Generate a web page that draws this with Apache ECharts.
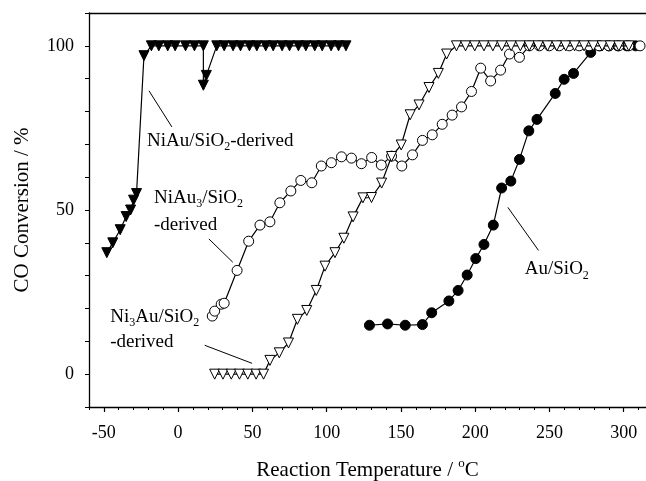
<!DOCTYPE html>
<html>
<head>
<meta charset="utf-8">
<script src="https://cdn.jsdelivr.net/npm/echarts@6.0.0/dist/echarts.min.js"></script>
<style>
  html, body { margin: 0; padding: 0; background: #fff; }
  #chart { width: 646px; height: 481px; }
</style>
</head>
<body>
<div id="chart"></div>
<script>
// NiAu/SiO2-derived (filled down triangles)
var niAuT = [-48, -44, -39, -35, -32, -30, -28, -23, -18, -13, -7, -2, 5, 11, 17, 17, 19,
    26, 31, 37, 42, 48, 53, 59, 64, 70, 75, 81, 86, 92, 97, 103, 108, 113];
var niAuC = [37, 40, 44, 48, 50, 53, 55, 97, 100, 100, 100, 100, 100, 100, 100, 88, 91,
    100, 100, 100, 100, 100, 100, 100, 100, 100, 100, 100, 100, 100, 100, 100, 100, 100];

// NiAu3/SiO2-derived (open circles)
var niAu3T = [23, 24.6, 29, 31, 39.7, 47.5, 55.1, 61.8, 68.5, 75.9, 82.6, 90, 96.4, 103.2, 110,
    116.7, 123.4, 130.3, 136.8, 143.7, 150.6, 157.8, 164.5, 171.1, 177.8, 184.5, 190.8, 197.5,
    203.7, 210.4, 217.1, 223.1, 229.8, 236.5, 243.2, 249.9, 256.6, 263.3, 270, 276.7, 283.4,
    290, 296.7, 303.4, 311];
var niAu3C = [17.7, 19.2, 21.3, 21.6, 31.6, 40.5, 45.4, 46.4, 52.2, 55.8, 59, 58.3, 63.4, 64.4, 66.2,
    65.8, 64.1, 66, 63.7, 66.4, 63.4, 66.8, 71.2, 72.9, 76.1, 78.9, 81.4, 86.1,
    93.2, 89.3, 92.6, 97.5, 96.5, 100, 100, 100, 100, 100, 100, 100, 100,
    100, 100, 100, 100];

// Ni3Au/SiO2-derived (open down triangles)
var ni3AuT = [24.6, 30.2, 35.8, 41.3, 46.9, 52.5, 57.5, 61.8, 68.1, 74.3, 80.3, 86.6, 93, 98.9,
    105.6, 111.6, 117.8, 124.4, 130.2, 137, 143.7, 150.2, 156.2, 162.2, 168.9, 175.2, 180.8,
    187.4, 193.5, 199.7, 205.9, 211.9, 217.9, 224.2, 230.4, 236.4, 242.4, 248.7, 254.9, 260.9,
    266.9, 273.3, 279.5, 285.5, 291, 296.7, 303.4];
var ni3AuC = [0, 0, 0, 0, 0, 0, 0, 4.2, 6.5, 9.5, 16.7, 19.4, 25.5, 32.9,
    37, 41.4, 47.9, 53.7, 53.8, 58.2, 66.3, 69.8, 79, 82, 87.3, 91.6, 97.5,
    100, 100, 100, 100, 100, 100, 100, 100, 100, 100, 100, 100, 100,
    100, 100, 100, 100, 100, 100, 100];

// Au/SiO2 (filled circles)
var auT = [128.8, 141, 152.9, 164.5, 170.7, 182.3, 188.5, 194.6, 200.4, 205.9, 212.2, 217.8,
    224, 229.8, 236.1, 241.6, 253.9, 259.9, 266.2, 277.8, 284, 290, 296, 302, 308];
var auC = [14.9, 15.3, 14.9, 15.1, 18.7, 22.3, 25.5, 30.2, 35.2, 39.5, 45.4, 56.7,
    58.8, 65.4, 74.1, 77.6, 85.5, 89.8, 91.6, 98, 100, 100, 100, 100, 100];

// tick labels
var xLabelValues = [-50, 0, 50, 100, 150, 200, 250, 300];
var yLabelValues = [0, 50, 100];

function pairs(xs, ys) {
    return xs.map(function (x, i) { return [x, ys[i]]; });
}

var FONT = '"Liberation Serif", "DejaVu Serif", serif';
var chart = echarts.init(document.getElementById('chart'), null, { renderer: 'canvas' });

function mkSeries(name, data, symbol, fill, z) {
    return {
        name: name,
        type: 'line',
        data: data,
        symbol: symbol,
        symbolRotate: symbol === 'triangle' ? 180 : 0,
        symbolSize: 10,
        z: z,
        lineStyle: { color: '#000', width: 1.2 },
        itemStyle: { color: fill, borderColor: '#000', borderWidth: 1 },
        emphasis: { disabled: true },
        animation: false
    };
}

var option = {
    backgroundColor: '#fff',
    animation: false,
    grid: { left: 89, right: 0, top: 13, bottom: 74, outerBoundsMode: 'none' },
    xAxis: [{
        type: 'value', min: -60, max: 315, interval: 10,
        axisLine: { onZero: false, lineStyle: { color: '#000', width: 1.3 } },
        axisTick: { length: 3, lineStyle: { color: '#000', width: 1 } },
        axisLabel: {
            margin: 17, color: '#000', fontFamily: FONT, fontSize: 18,
            formatter: function (v) { return xLabelValues.indexOf(v) >= 0 ? String(v) : ''; }
        },
        splitLine: { show: false },
        name: 'Reaction Temperature / {sup|o}C',
        nameLocation: 'middle', nameGap: 50,
        nameTextStyle: {
            color: '#000', fontFamily: FONT, fontSize: 21,
            rich: { sup: { fontSize: 13, fontFamily: FONT, color: '#000', verticalAlign: 'top', lineHeight: 26 } }
        }
    }, {
        // longer ticks at the labelled values
        type: 'value', min: -60, max: 315, interval: 10, position: 'bottom',
        axisLine: { show: false, onZero: false },
        axisTick: { show: true, length: 5, customValues: xLabelValues, lineStyle: { color: '#000', width: 1.2 } },
        axisLabel: { show: false },
        splitLine: { show: false }
    }, {
        // top frame line
        type: 'value', min: -60, max: 315, position: 'top',
        axisLine: { onZero: false, lineStyle: { color: '#000', width: 1.3 } },
        axisTick: { show: false }, axisLabel: { show: false }, splitLine: { show: false }
    }],
    yAxis: {
        type: 'value', min: -10, max: 110, interval: 10,
        axisLine: { show: true, onZero: false, lineStyle: { color: '#000', width: 1.3 } },
        axisTick: { show: true, length: 4, lineStyle: { color: '#000', width: 1 } },
        axisLabel: {
            margin: 15, color: '#000', fontFamily: FONT, fontSize: 18,
            formatter: function (v) { return yLabelValues.indexOf(v) >= 0 ? String(v) : ''; }
        },
        splitLine: { show: false },
        name: 'CO Conversion / %',
        nameLocation: 'middle', nameGap: 56, nameRotate: 90,
        nameTextStyle: { color: '#000', fontFamily: FONT, fontSize: 21 }
    },
    series: [
        mkSeries('Au/SiO2', pairs(auT, auC), 'circle', '#000', 2),
        mkSeries('NiAu/SiO2-derived', pairs(niAuT, niAuC), 'triangle', '#000', 3),
        mkSeries('NiAu3/SiO2-derived', pairs(niAu3T, niAu3C), 'circle', '#fff', 4),
        mkSeries('Ni3Au/SiO2-derived', pairs(ni3AuT, ni3AuC), 'triangle', '#fff', 5)
    ]
};
chart.setOption(option);

// labels with leader lines, placed in data coordinates
var subRich = {
    sub: { fontSize: 12, fontFamily: FONT, fill: '#000', verticalAlign: 'bottom', lineHeight: 12 },
    n: { fontSize: 19, fontFamily: FONT, fill: '#000', lineHeight: 24 }
};
var leaders = [
    [[-19.6, 86.3], [-4.2, 75.3]],
    [[20.7, 41.2], [36.8, 34.1]],
    [[17.9, 8.8], [49.8, 3.3]],
    [[222, 50.8], [242.6, 37.7]]
];
var texts = [
    { at: [-20.9, 71.0], text: '{n|NiAu/SiO}{sub|2}{n|-derived}' },
    { at: [-16.3, 53.8], text: '{n|NiAu}{sub|3}{n|/SiO}{sub|2}' },
    { at: [-16.3, 45.4], text: '{n|-derived}' },
    { at: [-45.7, 17.4], text: '{n|Ni}{sub|3}{n|Au/SiO}{sub|2}' },
    { at: [-45.7, 9.8], text: '{n|-derived}' },
    { at: [233.4, 31.9], text: '{n|Au/SiO}{sub|2}' }
];

function px(p) { return chart.convertToPixel({ gridIndex: 0 }, p); }

var graphics = [];
leaders.forEach(function (l) {
    var a = px(l[0]), b = px(l[1]);
    graphics.push({
        type: 'line', silent: true, z: 10,
        shape: { x1: a[0], y1: a[1], x2: b[0], y2: b[1] },
        style: { stroke: '#000', lineWidth: 1 }
    });
});
texts.forEach(function (t) {
    var p = px(t.at);
    graphics.push({
        type: 'text', silent: true, z: 10, x: p[0], y: p[1],
        style: { text: t.text, rich: subRich, fill: '#000', fontFamily: FONT, fontSize: 19, align: 'left', verticalAlign: 'middle' }
    });
});
chart.setOption({ graphic: graphics });
</script>
</body>
</html>
